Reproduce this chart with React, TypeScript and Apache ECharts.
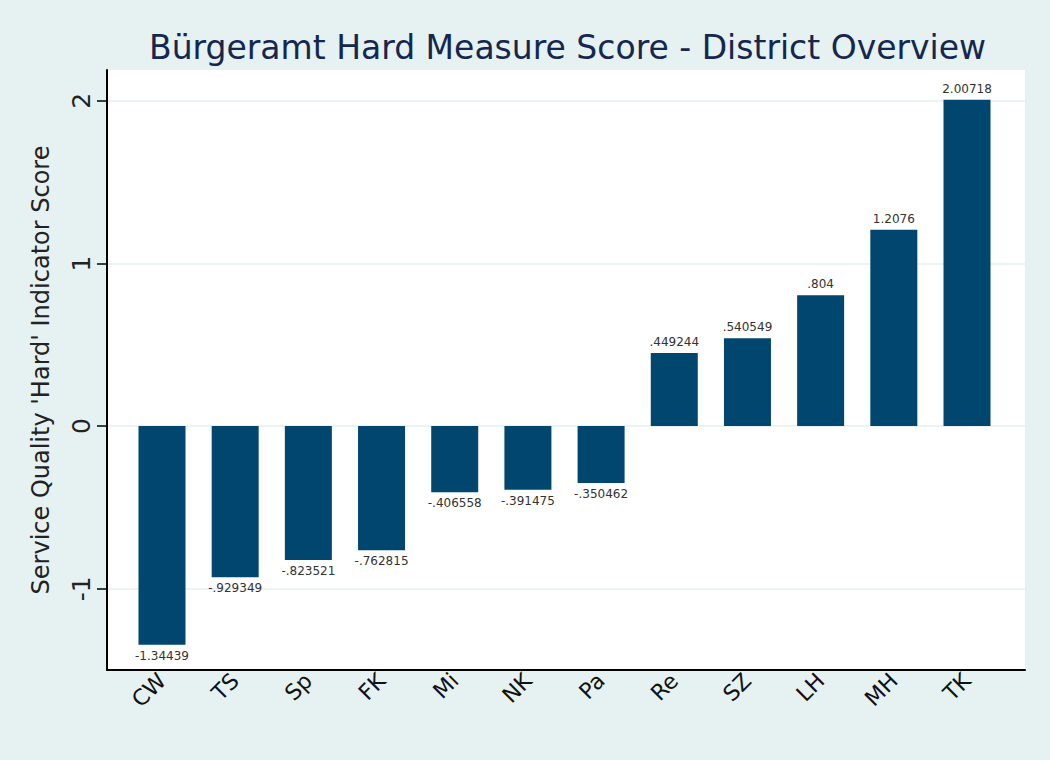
import React, { useEffect, useRef } from "react";
import * as echarts from "echarts";

const categories = ["CW", "TS", "Sp", "FK", "Mi", "NK", "Pa", "Re", "SZ", "LH", "MH", "TK"];
const scores = [-1.34439, -0.929349, -0.823521, -0.762815, -0.406558, -0.391475, -0.350462, 0.449244, 0.540549, 0.804, 1.2076, 2.00718];
const yTicks = [-1, 0, 1, 2];
const titleText = "Bürgeramt Hard Measure Score - District Overview";
const yAxisTitle = "Service Quality 'Hard' Indicator Score";

const fmt = (v: number) => String(v).replace(/^(-?)0\./, "$1.");

export default function App() {
  const ref = useRef<HTMLDivElement>(null);
  useEffect(() => {
    document.body.style.margin = "0";
    const chart = echarts.init(ref.current!, null, { renderer: "svg" });
    const yMin = -1.5;
    const yMax = 2.19;
    chart.setOption({
      animation: false,
      backgroundColor: "#e6f1f2",
      textStyle: { fontFamily: "DejaVu Sans" },
      title: {
        text: titleText,
        left: 144,
        top: 26,
        textStyle: { fontSize: 33, fontWeight: "normal", color: "#15274f", fontFamily: "DejaVu Sans" },
      },
      grid: [
        { left: 107, right: 25, top: 70, bottom: 90, show: true, backgroundColor: "#ffffff", borderWidth: 0 },
        { left: 125.4, right: 46.4, top: 70, bottom: 90 },
      ],
      xAxis: [
        {
          gridIndex: 0,
          type: "value",
          min: 0,
          max: 1,
          axisLine: { show: true, onZero: false, lineStyle: { color: "#000", width: 2 } },
          axisTick: { show: false },
          axisLabel: { show: false },
          splitLine: { show: false },
        },
        {
          gridIndex: 1,
          type: "category",
          data: categories,
          axisLine: { show: false },
          axisTick: { show: false },
          axisLabel: { rotate: 45, fontSize: 22, color: "#111", margin: 7 },
        },
      ],
      yAxis: [
        {
          gridIndex: 0,
          type: "value",
          min: yMin,
          max: yMax,
          axisLine: { show: true, onZero: false, lineStyle: { color: "#000", width: 2 } },
          axisTick: { show: true, length: 10, lineStyle: { color: "#000", width: 1.5 }, customValues: yTicks },
          axisLabel: { rotate: 90, fontSize: 25, color: "#222", margin: 13, customValues: yTicks },
          splitLine: { show: true, lineStyle: { color: "#e4eff1", width: 1.5 } },
          name: yAxisTitle,
          nameLocation: "middle",
          nameRotate: 90,
          nameGap: 54,
          nameTextStyle: { fontSize: 24, color: "#222" },
        },
        { gridIndex: 1, type: "value", min: yMin, max: yMax, show: false, splitLine: { show: false } },
      ],
      series: [
        {
          type: "bar",
          xAxisIndex: 1,
          yAxisIndex: 1,
          barWidth: 47,
          itemStyle: { color: "#00466f" },
          data: scores.map((v) => ({
            value: v,
            label: { position: v < 0 ? "bottom" : "top" },
          })),
          label: {
            show: true,
            fontSize: 12,
            color: "#333",
            distance: 5,
            formatter: (p: any) => fmt(p.value),
          },
        },
      ],
    });
    return () => chart.dispose();
  }, []);
  return <div ref={ref} style={{ width: 1050, height: 760 }} />;
}
